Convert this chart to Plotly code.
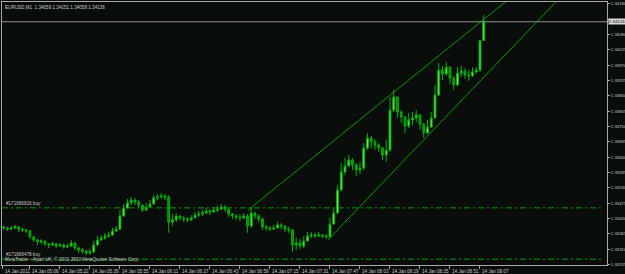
import plotly.graph_objects as go
import pandas as pd

# ---------------- data ----------------
times = pd.date_range("2011-01-14 04:52", periods=129, freq="2min")

opens = [1.33390, 1.33386, 1.33382, 1.33386, 1.33390, 1.33382, 1.33379, 1.33375, 1.33354, 1.33343,
         1.33336, 1.33339, 1.33329, 1.33325, 1.33329, 1.33321, 1.33325, 1.33318, 1.33321, 1.33332,
         1.33314, 1.33307, 1.33303, 1.33296, 1.33300, 1.33325, 1.33343, 1.33350, 1.33357, 1.33361,
         1.33375, 1.33382, 1.33429, 1.33458, 1.33476, 1.33486, 1.33479, 1.33468, 1.33450, 1.33461,
         1.33472, 1.33494, 1.33497, 1.33501, 1.33497, 1.33407, 1.33415, 1.33429, 1.33422, 1.33418,
         1.33415, 1.33422, 1.33432, 1.33436, 1.33440, 1.33447, 1.33443, 1.33450, 1.33454, 1.33461,
         1.33454, 1.33436, 1.33429, 1.33425, 1.33422, 1.33429, 1.33393, 1.33440, 1.33429, 1.33418,
         1.33390, 1.33386, 1.33382, 1.33386, 1.33397, 1.33393, 1.33382, 1.33379, 1.33325, 1.33332,
         1.33321, 1.33339, 1.33357, 1.33361, 1.33357, 1.33361, 1.33357, 1.33354, 1.33400, 1.33440,
         1.33522, 1.33587, 1.33608, 1.33630, 1.33612, 1.33594, 1.33601, 1.33673, 1.33709, 1.33695,
         1.33684, 1.33673, 1.33648, 1.33666, 1.33809, 1.33856, 1.33802, 1.33784, 1.33752, 1.33774,
         1.33781, 1.33792, 1.33759, 1.33727, 1.33748, 1.33781, 1.33863, 1.33953, 1.33939, 1.33963,
         1.33924, 1.33899, 1.33942, 1.33949, 1.33935, 1.33932, 1.33946, 1.33953, 1.34059]

highs = [1.33393, 1.33390, 1.33393, 1.33397, 1.33390, 1.33386, 1.33382, 1.33379, 1.33357, 1.33346,
         1.33346, 1.33339, 1.33332, 1.33336, 1.33332, 1.33332, 1.33329, 1.33329, 1.33343, 1.33336,
         1.33318, 1.33314, 1.33307, 1.33311, 1.33339, 1.33357, 1.33361, 1.33368, 1.33372, 1.33386,
         1.33393, 1.33450, 1.33472, 1.33490, 1.33497, 1.33494, 1.33486, 1.33468, 1.33476, 1.33486,
         1.33504, 1.33508, 1.33512, 1.33508, 1.33504, 1.33436, 1.33440, 1.33432, 1.33429, 1.33425,
         1.33432, 1.33443, 1.33447, 1.33450, 1.33458, 1.33454, 1.33461, 1.33465, 1.33472, 1.33468,
         1.33454, 1.33440, 1.33436, 1.33436, 1.33440, 1.33436, 1.33458, 1.33443, 1.33436, 1.33422,
         1.33397, 1.33393, 1.33397, 1.33407, 1.33404, 1.33393, 1.33390, 1.33382, 1.33350, 1.33346,
         1.33357, 1.33372, 1.33372, 1.33368, 1.33372, 1.33364, 1.33364, 1.33422, 1.33458, 1.33540,
         1.33619, 1.33637, 1.33648, 1.33637, 1.33619, 1.33623, 1.33691, 1.33727, 1.33716, 1.33705,
         1.33691, 1.33677, 1.33702, 1.33856, 1.33881, 1.33860, 1.33809, 1.33788, 1.33799, 1.33802,
         1.33809, 1.33792, 1.33763, 1.33774, 1.33802, 1.33899, 1.33978, 1.33967, 1.33982, 1.33967,
         1.33932, 1.33963, 1.33967, 1.33960, 1.33953, 1.33963, 1.33963, 1.34061, 1.34151]

lows = [1.33379, 1.33375, 1.33379, 1.33382, 1.33372, 1.33372, 1.33368, 1.33346, 1.33336, 1.33325,
        1.33329, 1.33321, 1.33314, 1.33321, 1.33314, 1.33318, 1.33311, 1.33314, 1.33318, 1.33307,
        1.33296, 1.33293, 1.33289, 1.33289, 1.33296, 1.33321, 1.33339, 1.33343, 1.33350, 1.33357,
        1.33372, 1.33379, 1.33425, 1.33454, 1.33468, 1.33468, 1.33458, 1.33443, 1.33447, 1.33458,
        1.33468, 1.33486, 1.33490, 1.33486, 1.33368, 1.33393, 1.33407, 1.33411, 1.33407, 1.33407,
        1.33411, 1.33422, 1.33425, 1.33429, 1.33436, 1.33432, 1.33440, 1.33443, 1.33450, 1.33443,
        1.33425, 1.33418, 1.33415, 1.33411, 1.33418, 1.33368, 1.33386, 1.33418, 1.33407, 1.33379,
        1.33375, 1.33375, 1.33379, 1.33386, 1.33382, 1.33372, 1.33368, 1.33300, 1.33307, 1.33311,
        1.33314, 1.33336, 1.33350, 1.33350, 1.33354, 1.33350, 1.33346, 1.33350, 1.33397, 1.33436,
        1.33522, 1.33576, 1.33608, 1.33594, 1.33573, 1.33580, 1.33594, 1.33666, 1.33673, 1.33666,
        1.33659, 1.33630, 1.33623, 1.33659, 1.33802, 1.33781, 1.33763, 1.33727, 1.33745, 1.33756,
        1.33766, 1.33738, 1.33709, 1.33723, 1.33745, 1.33781, 1.33860, 1.33917, 1.33932, 1.33903,
        1.33881, 1.33896, 1.33928, 1.33921, 1.33914, 1.33928, 1.33939, 1.33946, 1.34058]

closes = [1.33386, 1.33382, 1.33386, 1.33390, 1.33382, 1.33379, 1.33375, 1.33354, 1.33343, 1.33336,
          1.33339, 1.33329, 1.33325, 1.33329, 1.33321, 1.33325, 1.33318, 1.33321, 1.33332, 1.33314,
          1.33307, 1.33303, 1.33296, 1.33300, 1.33325, 1.33343, 1.33350, 1.33357, 1.33361, 1.33375,
          1.33382, 1.33429, 1.33458, 1.33476, 1.33486, 1.33479, 1.33468, 1.33450, 1.33461, 1.33472,
          1.33494, 1.33497, 1.33501, 1.33497, 1.33407, 1.33415, 1.33429, 1.33422, 1.33418, 1.33415,
          1.33422, 1.33432, 1.33436, 1.33440, 1.33447, 1.33443, 1.33450, 1.33454, 1.33461, 1.33454,
          1.33436, 1.33429, 1.33425, 1.33422, 1.33429, 1.33393, 1.33440, 1.33429, 1.33418, 1.33390,
          1.33386, 1.33382, 1.33386, 1.33397, 1.33393, 1.33382, 1.33379, 1.33325, 1.33332, 1.33321,
          1.33339, 1.33357, 1.33361, 1.33357, 1.33361, 1.33357, 1.33354, 1.33400, 1.33440, 1.33522,
          1.33587, 1.33608, 1.33630, 1.33612, 1.33594, 1.33601, 1.33673, 1.33709, 1.33695, 1.33684,
          1.33673, 1.33648, 1.33666, 1.33809, 1.33856, 1.33802, 1.33784, 1.33752, 1.33774, 1.33781,
          1.33792, 1.33759, 1.33727, 1.33748, 1.33781, 1.33863, 1.33953, 1.33939, 1.33963, 1.33924,
          1.33899, 1.33942, 1.33949, 1.33935, 1.33932, 1.33946, 1.33953, 1.34059, 1.34126]

# trend channel lines (two anchor points each)
upper_t = ["2011-01-14 07:02:18", "2011-01-14 09:20:00"]
upper_p = [1.33450, 1.34200]
lower_t = ["2011-01-14 07:44:54", "2011-01-14 09:50:00"]
lower_p = [1.33343, 1.34222]

# open orders
orders = ["#171666816 buy", "#171669478 buy"]
order_prices = [1.33458, 1.33274]

bid = 1.34126
title_text = "EURUSD,M1  1.34059 1.34151 1.34058 1.34126"
footer_text = "MetaTrader - Alpari UK, \u00a9 2001-2010 MetaQuotes Software Corp."

price_ticks = [1.34190, 1.34135, 1.34080, 1.34025, 1.33970, 1.33915, 1.33860, 1.33805, 1.33750,
               1.33695, 1.33640, 1.33585, 1.33530, 1.33475, 1.33420, 1.33365, 1.33310, 1.33255]
# the 1.34135 label sits under the bid price box in the reference
price_tick_text = ["" if abs(v - 1.34135) < 1e-7 else "%.5f" % v for v in price_ticks]

time_tick_vals = ["2011-01-14 04:51:36", "2011-01-14 05:06", "2011-01-14 05:22", "2011-01-14 05:38",
                  "2011-01-14 05:54", "2011-01-14 06:10", "2011-01-14 06:26", "2011-01-14 06:42",
                  "2011-01-14 06:58", "2011-01-14 07:14", "2011-01-14 07:30", "2011-01-14 07:46",
                  "2011-01-14 08:02", "2011-01-14 08:18", "2011-01-14 08:34", "2011-01-14 08:50",
                  "2011-01-14 09:06"]
time_tick_text = ["14 Jan 2011", "14 Jan 05:06", "14 Jan 05:22", "14 Jan 05:39", "14 Jan 05:55",
                  "14 Jan 06:11", "14 Jan 06:27", "14 Jan 06:43", "14 Jan 06:59", "14 Jan 07:15",
                  "14 Jan 07:31", "14 Jan 07:47", "14 Jan 08:03", "14 Jan 08:19", "14 Jan 08:35",
                  "14 Jan 08:51", "14 Jan 09:07"]

# ---------------- style ----------------
BG = "#0a0e0a"
FRAME = "#a8a8a8"
TXT = "#c8c8c8"
GREEN_LINE = "#00a000"
FONT = "Liberation Sans"
FS = 4.6

fig = go.Figure()

fig.add_trace(go.Candlestick(
    x=times, open=opens, high=highs, low=lows, close=closes,
    increasing=dict(line=dict(color="#00b000", width=1), fillcolor="#80f068"),
    decreasing=dict(line=dict(color="#00b000", width=1), fillcolor="#008c00"),
    whiskerwidth=0, showlegend=False, hoverinfo="skip",
))

fig.add_trace(go.Scatter(x=upper_t, y=upper_p, mode="lines",
                         line=dict(color=GREEN_LINE, width=1), showlegend=False, hoverinfo="skip"))
fig.add_trace(go.Scatter(x=lower_t, y=lower_p, mode="lines",
                         line=dict(color=GREEN_LINE, width=1), showlegend=False, hoverinfo="skip"))

shapes = []
annotations = []
for name, p in zip(orders, order_prices):
    shapes.append(dict(type="line", xref="paper", yref="y", x0=0, x1=0.993, y0=p, y1=p,
                       line=dict(color="#00a000", width=1, dash="6px,3px,2px,3px")))
    annotations.append(dict(xref="paper", yref="y", x=0.003, y=p, text=name, showarrow=False,
                            xanchor="left", yanchor="bottom", yshift=0,
                            font=dict(family=FONT, size=FS, color=TXT)))

# bid line
shapes.append(dict(type="line", xref="paper", yref="y", x0=0, x1=1, y0=bid, y1=bid,
                   line=dict(color="#909090", width=1)))
annotations.append(dict(xref="paper", yref="y", x=1, y=bid, text="1.34126", showarrow=False,
                        xanchor="left", yanchor="middle", xshift=1,
                        bgcolor="#d8d8d8", borderpad=0,
                        font=dict(family=FONT, size=4.3, color="#000000")))

# title and footer
annotations.append(dict(xref="paper", yref="paper", x=0.002, y=1, text=title_text, showarrow=False,
                        xanchor="left", yanchor="top", yshift=-1,
                        font=dict(family=FONT, size=FS, color=TXT)))
annotations.append(dict(xref="paper", yref="paper", x=0.002, y=0, text=footer_text, showarrow=False,
                        xanchor="left", yanchor="bottom", yshift=1,
                        font=dict(family=FONT, size=FS, color=TXT)))

# time labels
for tv, tt in zip(time_tick_vals, time_tick_text):
    annotations.append(dict(xref="x", yref="paper", x=tv, y=0, text=tt, showarrow=False,
                            xanchor="left", yanchor="top", yshift=-2, xshift=0,
                            font=dict(family=FONT, size=FS, color=TXT)))

fig.update_layout(
    width=625, height=274,
    margin=dict(l=2, r=18, t=2, b=9),
    paper_bgcolor=BG, plot_bgcolor=BG,
    shapes=shapes, annotations=annotations,
    showlegend=False,
    xaxis=dict(type="date", range=["2011-01-14 04:51:06", "2011-01-14 10:13:44"],
               rangeslider=dict(visible=False), showgrid=False, zeroline=False,
               tickvals=time_tick_vals, showticklabels=False,
               ticks="outside", ticklen=3, tickcolor=FRAME,
               showline=True, linecolor=FRAME, linewidth=1, mirror=True),
    yaxis=dict(range=[1.33253, 1.34197], side="right", showgrid=False, zeroline=False,
               tickvals=price_ticks, ticktext=price_tick_text,
               ticks="outside", ticklen=2, tickcolor=FRAME,
               tickfont=dict(family=FONT, size=4.3, color=TXT),
               showline=True, linecolor=FRAME, linewidth=1, mirror=True, automargin=False),
)

fig.write_html("out.html")
